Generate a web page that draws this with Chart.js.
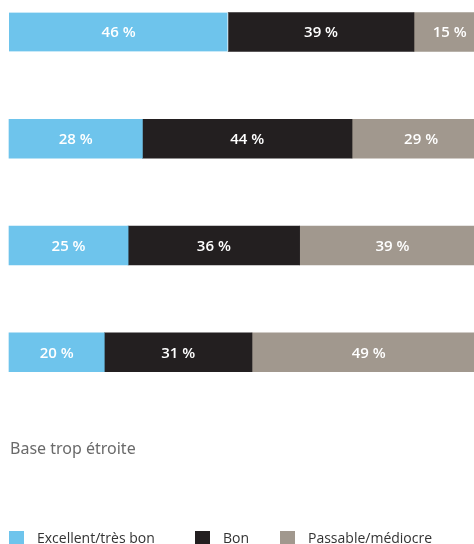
<!DOCTYPE html>
<html>
<head>
<meta charset="utf-8">
<script src="https://cdn.jsdelivr.net/npm/chart.js@4"></script>
<style>
  html, body { margin: 0; padding: 0; background: #fff; overflow: hidden; }
  #wrap { position: relative; width: 474px; height: 544px; }
  #legend { position: absolute; left: 9px; top: 530px; font-family: "Open Sans", sans-serif; font-size: 14px; color: #333; white-space: nowrap; }
  #legend span.item { position: absolute; top: 0; }
  #legend i { position: absolute; top: 1px; width: 15px; height: 15px; }
  #legend b { position: absolute; top: -2px; left: 28px; font-weight: normal; }
</style>
</head>
<body>
<div id="wrap">
  <canvas id="myChart" width="474" height="544"></canvas>
  <div id="legend"></div>
</div>
<script>
const categories = ["1", "2", "3", "4", "Base trop étroite"];
const excellent = [46, 28, 25, 20, null];
const bon = [39, 44, 36, 31, null];
const passable = [15, 29, 39, 49, null];
const seriesNames = ["Excellent/très bon", "Bon", "Passable/médiocre"];
const colors = ["#6ec4ec", "#231f20", "#a1988e"];

// value text in the middle of each segment, and the note for the empty row
const labelPlugin = {
  id: "labels",
  afterDatasetsDraw(chart) {
    const ctx = chart.ctx;
    ctx.save();
    ctx.font = "600 15px 'Open Sans', sans-serif";
    ctx.fillStyle = "#fff";
    ctx.textAlign = "center";
    ctx.textBaseline = "middle";
    chart.data.datasets.forEach((ds, i) => {
      chart.getDatasetMeta(i).data.forEach((bar, j) => {
        if (ds.data[j] == null) return;
        const cx = (bar.x + bar.base) / 2;
        ctx.fillText(ds.data[j] + " %", cx, bar.y + 1);
      });
    });
    const y = chart.scales.y.getPixelForValue(4);
    ctx.font = "16px 'Noto Sans', sans-serif";
    ctx.fillStyle = "#6a6a6a";
    ctx.textAlign = "left";
    ctx.fillText(categories[4], chart.chartArea.left + 1, y - 10);
    ctx.restore();
  },
};

const data = {
  labels: categories,
  datasets: [
    {
      label: seriesNames[0],
      data: excellent,
      backgroundColor: colors[0],
      borderColor: "#fff",
      borderWidth: (c) => (c.dataIndex === 0 ? { right: 1 } : 0),
      borderSkipped: false,
    },
    { label: seriesNames[1], data: bon, backgroundColor: colors[1] },
    { label: seriesNames[2], data: passable, backgroundColor: colors[2] },
  ],
};

const config = {
  type: "bar",
  data: data,
  options: {
    indexAxis: "y",
    responsive: false,
    animation: false,
    layout: { padding: { left: 9, right: 0, top: 32, bottom: 85 } },
    datasets: { bar: { barThickness: 39, clip: false } },
    scales: {
      x: { stacked: true, min: 0, max: 97.6, display: false },
      y: { stacked: true, display: false, offset: false },
    },
    plugins: { legend: { display: false }, tooltip: { enabled: false } },
  },
  plugins: [labelPlugin],
};

const chart = new Chart(document.getElementById("myChart"), config);

const legendX = [0, 186, 271];
const legend = document.getElementById("legend");
seriesNames.forEach((name, i) => {
  const s = document.createElement("span");
  s.className = "item";
  s.style.left = legendX[i] + "px";
  s.innerHTML = '<i style="background:' + colors[i] + '"></i><b>' + name + "</b>";
  legend.appendChild(s);
});
</script>
</body>
</html>
